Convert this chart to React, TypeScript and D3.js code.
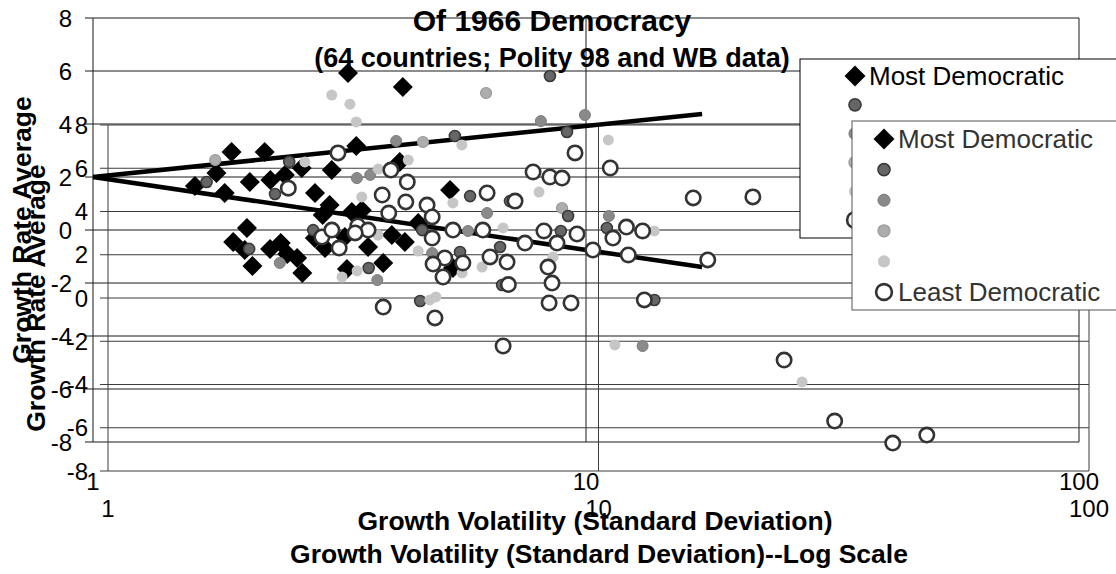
import React from 'react'
import * as d3 from 'd3'

// two Excel charts laid over each other: same axes, different plot boxes
const yTicks = [-8, -6, -4, -2, 0, 2, 4, 6, 8]
const xTicks = [1, 10, 100]
const legendLabels = ['Most Democratic', '', '', '', '', 'Least Democratic']

// chart A  [volatility, growth]
const aMost = [
  [3.29, 5.92], [4.25, 5.4], [1.91, 2.94], [2.23, 2.94], [1.78, 2.15], [1.61, 1.66],
  [1.85, 1.4], [2.08, 1.81], [2.29, 1.89], [2.45, 2.08], [2.65, 2.34], [3.05, 2.26],
  [3.42, 3.17], [4.19, 2.57], [2.82, 1.4], [3.02, 0.94], [3.35, 0.68], [3.51, 0.75],
  [5.3, 1.51],
]
const aDark = [
  [1.7, 1.81], [2.5, 2.57], [2.34, 1.36], [5.42, 3.55], [5.82, 1.28], [8.45, 5.81],
  [9.15, 3.7], [7.01, 1.09],
]
const aMid = [
  [4.12, 3.36], [3.65, 2.08], [3.43, 1.96], [6.3, 0.64], [8.1, 4.11], [9.95, 4.34],
]
const aPale = [[1.77, 2.64], [6.27, 5.17], [4.67, 3.32], [8.94, 0.83]]
const aLight = [
  [3.05, 5.09], [3.32, 4.75], [3.42, 4.08], [2.69, 2.57], [3.79, 2.3], [4.36, 2.64],
  [5.6, 3.21], [3.51, 1.25], [5.37, 1.02], [11.1, 3.4], [8.03, 1.43], [34.3, 1.43],
]
const aLeast = [
  [3.14, 2.91], [2.49, 1.58], [4.02, 2.26], [4.34, 1.81], [3.86, 1.32], [4.31, 1.06],
  [4.76, 0.94], [3.98, 0.64], [6.3, 1.4], [9.5, 2.91], [7.81, 2.19], [8.45, 2.0],
  [8.94, 1.96], [11.2, 2.34], [7.18, 1.09], [16.5, 1.21], [21.8, 1.25],
]
const aTrendUp = [[1, 2.0], [17.2, 4.38]]
const aTrendDown = [[1, 2.0], [17.2, -1.4]]

// chart B
const bMost = [
  [2.74, 3.84], [1.92, 3.24], [1.8, 2.59], [1.9, 2.22], [1.97, 1.48], [2.14, 2.27],
  [2.25, 2.54], [2.32, 2.03], [2.43, 1.85], [2.49, 1.16], [2.64, 2.77], [2.77, 2.31],
  [3.04, 2.82], [3.39, 2.36], [3.64, 1.62], [3.07, 1.34], [3.79, 2.91], [4.03, 2.59],
  [4.29, 3.47], [5.05, 1.39],
]
const bDark = [
  [1.94, 2.27], [2.62, 3.14], [3.4, 1.39], [4.37, 3.14], [5.22, 2.13], [6.3, 2.36],
  [6.36, 0.6], [4.33, -0.14], [8.67, 3.79], [8.38, 3.1], [10.4, 3.24], [13.0, -0.09],
]
const bMid = [
  [5.42, 3.1], [4.58, 2.08], [3.54, 0.83], [10.5, 3.79], [12.3, -2.22], [2.24, 1.62],
]
const bPale: number[][] = []
const bLight = [
  [3.55, 2.91], [6.39, 3.24], [4.29, 2.17], [5.27, 1.16], [5.79, 1.43], [3.0, 0.97],
  [3.22, 1.25], [4.53, -0.09], [4.66, 0.05], [13.0, 3.1], [8.08, 1.9], [10.8, -2.17],
  [26.0, -3.88],
]
const bLeast = [
  [4.58, 3.75], [2.73, 2.82], [2.86, 3.14], [2.96, 2.31], [3.23, 3.33], [3.39, 3.14],
  [3.19, 3.01], [4.58, 2.77], [5.05, 3.14], [5.81, 3.14], [4.86, 1.85], [4.6, 1.57],
  [5.29, 1.62], [4.82, 0.97], [6.01, 1.9], [6.51, 1.66], [3.64, -0.42], [4.64, -0.92],
  [6.39, -2.22], [6.55, 0.62], [7.74, 3.1], [9.04, 2.96], [8.23, 2.54], [7.08, 2.54],
  [10.7, 2.77], [11.4, 3.28], [12.3, 3.1], [9.74, 2.22], [11.5, 1.99], [16.7, 1.76],
  [7.89, 1.43], [8.04, 0.69], [7.93, -0.23], [8.79, -0.23], [12.4, -0.09], [23.9, -2.87],
  [30.3, -5.69], [39.8, -6.71], [46.7, -6.34], [32.6, 3.61],
]

const aSeries = [aMost, aDark, aMid, aPale, aLight, aLeast]
const bSeries = [bMost, bDark, bMid, bPale, bLight, bLeast]

const markers = [
  { shape: 'diamond', fill: '#000', stroke: 'none', sw: 0, r: 10 },
  { shape: 'circle', fill: '#666', stroke: '#3a3a3a', sw: 1.6, r: 5.5 },
  { shape: 'circle', fill: '#8a8a8a', stroke: '#7c7c7c', sw: 1, r: 5.5 },
  { shape: 'circle', fill: '#adadad', stroke: '#999', sw: 1.2, r: 5.5 },
  { shape: 'circle', fill: '#c6c6c6', stroke: 'none', sw: 0, r: 5.5 },
  { shape: 'circle', fill: '#fff', stroke: '#333', sw: 2.6, r: 7.2 },
]

const font = "'Liberation Sans', Arial, sans-serif"
const frameA = { left: 93, top: 18, right: 1079, bottom: 442 }
const frameB = { left: 108, top: 125, right: 1089, bottom: 471 }

function scalesFor(f) {
  return {
    x: d3.scaleLog().domain([1, 100]).range([f.left, f.right]),
    y: d3.scaleLinear().domain([-8, 8]).range([f.bottom, f.top]),
  }
}

const diamondPath = d3.symbol().type(d3.symbolSquare).size(200)()

function Marker({ m, x, y, scale = 1 }) {
  if (m.shape === 'diamond') {
    return <path d={diamondPath} fill={m.fill}
      transform={`translate(${x},${y}) rotate(45) scale(${scale})`} />
  }
  return <circle cx={x} cy={y} r={m.r * scale} fill={m.fill} stroke={m.stroke} strokeWidth={m.sw} />
}

function Grid({ s, f, color }) {
  return (
    <g stroke={color} strokeWidth={1} fill="none">
      {yTicks.map(t => (
        <line key={'h' + t} x1={f.left - 8} x2={f.right} y1={s.y(t)} y2={s.y(t)} />
      ))}
      {xTicks.map(t => (
        <line key={'v' + t} x1={s.x(t)} x2={s.x(t)} y1={f.top} y2={f.bottom} />
      ))}
    </g>
  )
}

function TickLabels({ s, labelRight, xLabelY }) {
  return (
    <g fontFamily={font} fontSize={24} fill="#000">
      {yTicks.map(t => (
        <text key={'y' + t} x={labelRight} y={s.y(t) + 8.5} textAnchor="end">{t}</text>
      ))}
      {xTicks.map(t => (
        <text key={'x' + t} x={s.x(t)} y={xLabelY} textAnchor="middle">{t}</text>
      ))}
    </g>
  )
}

function Points({ s, series }) {
  return (
    <g>
      {series.map((pts, i) => pts.map((d, j) => (
        <Marker key={i + '-' + j} m={markers[i]} x={s.x(d[0])} y={s.y(d[1])} />
      )))}
    </g>
  )
}

function Legend({ x, y, h, rowY, gap, markX, textX, textColor, border }) {
  return (
    <g>
      <rect x={x} y={y} width={1130 - x} height={h} fill="#fff" stroke={border} strokeWidth={1} />
      {legendLabels.map((lab, i) => (
        <g key={i}>
          <Marker m={markers[i]} x={markX} y={rowY + i * gap} scale={i === 0 ? 1.05 : 1.1} />
          <text x={textX} y={rowY + i * gap + 9} fontFamily={font} fontSize={26} fill={textColor}>{lab}</text>
        </g>
      ))}
    </g>
  )
}

export default function App() {
  const sA = scalesFor(frameA)
  const sB = scalesFor(frameB)
  const trend = d3.line().x(d => sA.x(d[0])).y(d => sA.y(d[1]))

  return (
    <svg width={1116} height={574} style={{ position: 'absolute', left: 0, top: 0, background: '#fff' }}>
      <rect width={1116} height={574} fill="#fff" />
      <Grid s={sA} f={frameA} color="#1a1a1a" />
      <Grid s={sB} f={frameB} color="#3c3c3c" />
      <TickLabels s={sA} labelRight={72} xLabelY={490} />
      <TickLabels s={sB} labelRight={88} xLabelY={517} />

      <path d={trend(aTrendUp)} fill="none" stroke="#000" strokeWidth={4.5} />
      <path d={trend(aTrendDown)} fill="none" stroke="#000" strokeWidth={4.5} />

      <Points s={sA} series={aSeries} />
      <Points s={sB} series={bSeries} />

      <g fontFamily={font} fontWeight="bold" fill="#000" textAnchor="middle">
        <text x={552} y={31} fontSize={30}>Of 1966 Democracy</text>
        <text x={552} y={67} fontSize={27}>(64 countries; Polity 98 and WB data)</text>
        <text x={595} y={530} fontSize={26.5}>Growth Volatility (Standard Deviation)</text>
        <text x={599} y={563} fontSize={26.5}>Growth Volatility (Standard Deviation)--Log Scale</text>
        <text transform={`translate(31,${(frameA.top + frameA.bottom) / 2}) rotate(-90)`} fontSize={26.5}>Growth Rate Average</text>
        <text transform={`translate(45,${(frameB.top + frameB.bottom) / 2}) rotate(-90)`} fontSize={26.5}>Growth Rate Average</text>
      </g>

      <Legend x={800} y={59} h={179} rowY={76} gap={28.8} markX={855} textX={869} textColor="#000" border="#000" />
      <Legend x={852} y={121} h={189} rowY={139} gap={30.6} markX={884} textX={898} textColor="#333" border="#555" />
    </svg>
  )
}
